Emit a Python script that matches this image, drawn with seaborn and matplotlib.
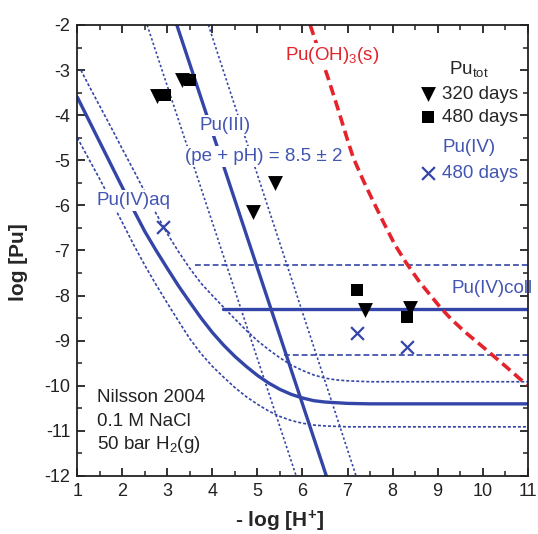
import matplotlib
matplotlib.use("Agg")
import matplotlib.pyplot as plt
import seaborn as sns
import pandas as pd
from matplotlib.ticker import MultipleLocator

# ---------------- data ----------------
# Pu(III) solubility line and its +/-2 band
pu3_x = [3.21, 6.53]
pu3_y = [-2.0, -12.0]
pu3_lo_x = [2.55, 5.86]
pu3_lo_y = [-2.0, -12.0]
pu3_hi_x = [3.91, 7.19]
pu3_hi_y = [-2.0, -12.0]

# Pu(IV)aq curve and band
aq_x = [1.0, 1.25, 1.5, 1.75, 2.0, 2.25, 2.5, 2.75, 3.0, 3.25, 3.5, 3.75, 4.0,
        4.25, 4.5, 4.75, 5.0, 5.25, 5.5, 5.75, 6.0, 6.25, 6.5, 7.0, 7.5, 11.0]
aq_y = [-3.6, -4.1, -4.6, -5.1, -5.6, -6.1, -6.58, -7.0, -7.4, -7.79, -8.15,
        -8.5, -8.82, -9.1, -9.35, -9.57, -9.77, -9.94, -10.08, -10.19, -10.27,
        -10.33, -10.36, -10.39, -10.4, -10.4]
aq_hi_x = [1.08, 1.25, 1.5, 1.75, 2.0, 2.25, 2.5, 2.75, 3.0, 3.25, 3.5, 3.75,
           4.0, 4.25, 4.5, 4.75, 5.0, 5.25, 5.5, 5.75, 6.0, 6.25, 6.5, 6.75,
           7.0, 7.5, 11.0]
aq_hi_y = [-3.0, -3.33, -3.8, -4.27, -4.75, -5.22, -5.7, -6.18, -6.63, -7.03,
           -7.4, -7.73, -8.0, -8.26, -8.52, -8.77, -9.0, -9.2, -9.38, -9.54,
           -9.66, -9.76, -9.83, -9.87, -9.89, -9.91, -9.91]
aq_lo_x = [1.0, 1.25, 1.5, 1.75, 2.0, 2.25, 2.5, 2.75, 3.0, 3.25, 3.5, 3.75,
           4.0, 4.25, 4.5, 4.75, 5.0, 5.25, 5.5, 5.75, 6.0, 6.25, 6.5, 7.0, 11.0]
aq_lo_y = [-4.5, -4.96, -5.42, -5.9, -6.38, -6.87, -7.33, -7.76, -8.17, -8.57,
           -8.96, -9.29, -9.57, -9.81, -10.04, -10.24, -10.41, -10.56, -10.68,
           -10.77, -10.83, -10.87, -10.89, -10.91, -10.91]

# Pu(IV)coll level and band
coll_x = [4.24, 11.0]
coll_y = [-8.30, -8.30]
coll_hi_x = [3.62, 11.0]
coll_hi_y = [-7.32, -7.32]
coll_lo_x = [5.60, 11.0]
coll_lo_y = [-9.32, -9.32]

# Pu(OH)3(s) solubility
oh3_x = [6.17, 6.4, 6.57, 6.8, 7.0, 7.13, 7.35, 7.57, 7.8, 8.05, 8.3, 8.6,
         9.05, 9.3, 9.6, 10.09, 10.5, 10.98]
oh3_y = [-2.0, -2.68, -3.18, -3.9, -4.55, -4.95, -5.45, -5.91, -6.38, -6.87,
         -7.27, -7.7, -8.25, -8.52, -8.8, -9.21, -9.56, -9.98]

# measured points
tri_x = [2.77, 3.32, 4.91, 5.39, 7.39, 8.39]
tri_y = [-3.58, -3.22, -6.14, -5.51, -8.32, -8.28]
sq_x = [2.95, 3.50, 7.20, 8.31]
sq_y = [-3.55, -3.22, -7.88, -8.47]
x4_x = [2.91, 7.20, 8.31]
x4_y = [-6.47, -8.84, -9.13]

x_ticks = list(range(1, 12))
y_ticks = list(range(-12, -1))

# ---------------- style ----------------
sns.set_theme(style="ticks")
plt.rcParams["font.family"] = ["Liberation Sans", "DejaVu Sans"]
plt.rcParams["axes.unicode_minus"] = False
plt.rcParams["mathtext.fontset"] = "custom"
plt.rcParams["mathtext.rm"] = "Liberation Sans"
plt.rcParams["mathtext.it"] = "Liberation Sans:italic"
plt.rcParams["mathtext.bf"] = "Liberation Sans:bold"

BLUE = "#3445a8"
TBLUE = "#4355b3"
RED = "#e4232c"
FS = 13.5

fig = plt.figure(figsize=(5.38, 5.34), dpi=100)
ax = fig.add_axes([77.3 / 538, 1 - 476 / 534, 450.4 / 538, 451 / 534])


def line(x, y, **kw):
    df = pd.DataFrame({"x": x, "y": y})
    sns.lineplot(data=df, x="x", y="y", ax=ax, sort=False, errorbar=None,
                 estimator=None, legend=False, **kw)


dot = (0, (1.4, 1.4))
fine = (0, (1.8, 1.2))
dash = (0, (3.5, 1.8))

line(pu3_lo_x, pu3_lo_y, color=BLUE, lw=1.2, linestyle=dot)
line(pu3_hi_x, pu3_hi_y, color=BLUE, lw=1.2, linestyle=dot)
line(aq_hi_x, aq_hi_y, color=BLUE, lw=1.2, linestyle=fine)
line(aq_lo_x, aq_lo_y, color=BLUE, lw=1.2, linestyle=fine)
line(coll_hi_x, coll_hi_y, color=BLUE, lw=1.2, linestyle=dash)
line(coll_lo_x, coll_lo_y, color=BLUE, lw=1.2, linestyle=dash)
line(pu3_x, pu3_y, color=BLUE, lw=2.4)
line(aq_x, aq_y, color=BLUE, lw=2.4)
line(coll_x, coll_y, color=BLUE, lw=2.4)
line(oh3_x, oh3_y, color=RED, lw=2.6, linestyle=(0, (2.9, 1.5)))

sns.scatterplot(x=tri_x, y=tri_y, ax=ax, marker="v", s=115, color="black",
                linewidth=0, label="320 days", legend=False, zorder=5)
sns.scatterplot(x=sq_x, y=sq_y, ax=ax, marker="s", s=70, color="black",
                linewidth=0, label="480 days", legend=False, zorder=5)
sns.scatterplot(x=x4_x, y=x4_y, ax=ax, marker="x", s=85, color=BLUE,
                linewidth=1.6, label="480 days ", legend=False, zorder=5)

h_tri, h_sq, h_x = ax.collections[-3], ax.collections[-2], ax.collections[-1]

# annotations
wb = dict(facecolor="white", edgecolor="none", pad=1.5)
ax.text(6.65, -2.67, "Pu(OH)$_3$(s)", color=RED, fontsize=FS, ha="center",
        va="center", bbox=wb, zorder=4)
ax.text(4.28, -4.22, "Pu(III)", color=TBLUE, fontsize=FS, ha="center",
        va="center", bbox=wb, zorder=4)
ax.text(5.15, -4.92, "(pe + pH) = 8.5 ± 2", color=TBLUE, fontsize=FS,
        ha="center", va="center", bbox=wb, zorder=4)
ax.text(2.25, -5.90, "Pu(IV)aq", color=TBLUE, fontsize=FS, ha="center",
        va="center", bbox=wb, zorder=4)
ax.text(11.12, -7.85, "Pu(IV)coll", color=TBLUE, fontsize=FS, ha="right",
        va="center", zorder=4)
for yy, s in zip([-10.27, -10.80, -11.31],
                 ["Nilsson 2004", "0.1 M NaCl", "50 bar H$_2$(g)"]):
    ax.text(1.43, yy, s, color="#222222", fontsize=FS, ha="left", va="center")

# legends
leg1 = ax.legend(handles=[h_tri, h_sq], labels=["320 days", "480 days"],
                 title="Pu$_{\\mathrm{tot}}$", loc="upper right",
                 bbox_to_anchor=(0.978, 0.925), frameon=False, fontsize=FS,
                 title_fontsize=FS, handlelength=0.8, handletextpad=0.35,
                 labelspacing=0.35, borderpad=0, borderaxespad=0)
ax.add_artist(leg1)
leg2 = ax.legend(handles=[h_x], labels=["480 days"], title="Pu(IV)",
                 loc="upper right", bbox_to_anchor=(0.978, 0.748),
                 frameon=False, fontsize=FS, title_fontsize=FS,
                 handlelength=0.8, handletextpad=0.35, borderpad=0,
                 borderaxespad=0, labelcolor=TBLUE)
leg2.get_title().set_color(TBLUE)

# axes
ax.set_xlim(1, 11)
ax.set_ylim(-12, -2)
ax.set_xticks(x_ticks)
ax.set_yticks(y_ticks)
ax.xaxis.set_minor_locator(MultipleLocator(0.5))
ax.yaxis.set_minor_locator(MultipleLocator(0.5))
ax.tick_params(which="both", direction="in", top=True, right=True,
               colors="#222222", labelsize=13)
ax.tick_params(which="major", length=6, width=1.3, pad=5)
ax.tick_params(which="minor", length=3.5, width=1.1)
for sp in ax.spines.values():
    sp.set_linewidth(1.3)
    sp.set_color("#222222")
ax.set_xlabel("- log [H$^{\\mathbf{+}}$]", fontsize=15, fontweight="bold")
ax.set_ylabel("log [Pu]", fontsize=15, fontweight="bold")
ax.xaxis.set_label_coords(0.448, -0.072)
ax.yaxis.set_label_coords(-0.11, 0.474)

fig.savefig("out.png", dpi=100)
